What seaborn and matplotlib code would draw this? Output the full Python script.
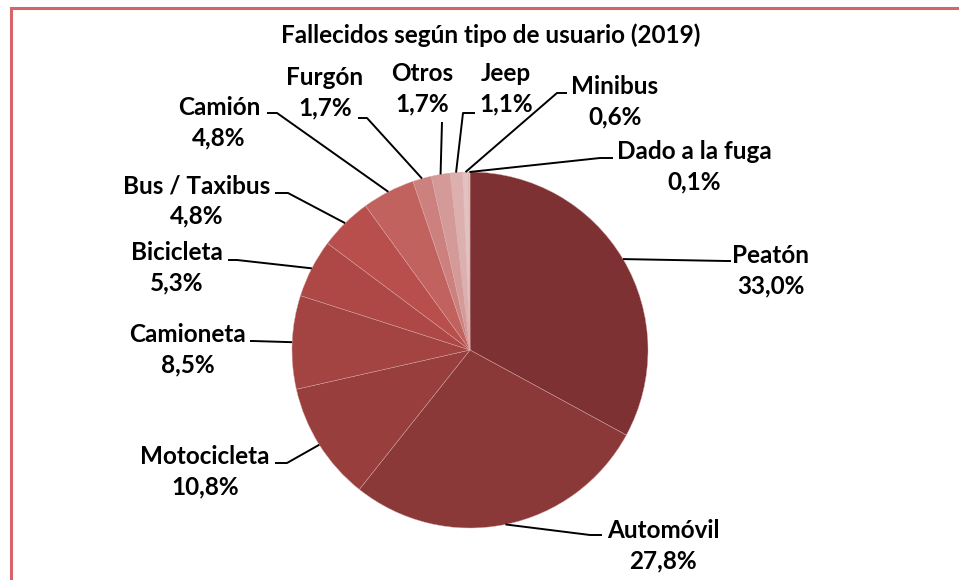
import numpy as np
import matplotlib
matplotlib.use("Agg")
import matplotlib.pyplot as plt
import seaborn as sns
from matplotlib.patches import Rectangle

# data
categorias = ["Peatón", "Automóvil", "Motocicleta", "Camioneta", "Bicicleta",
              "Bus / Taxibus", "Camión", "Furgón", "Otros", "Jeep", "Minibus",
              "Dado a la fuga"]
porcentajes = [33.0, 27.8, 10.8, 8.5, 5.3, 4.8, 4.8, 1.7, 1.7, 1.1, 0.6, 0.1]
colores = ["#7e3133", "#8b3839", "#983e3d", "#a34342", "#ad4847", "#b84f4d",
           "#c2625f", "#cd817f", "#d49a98", "#dbb0af", "#e2c2c1", "#e7d0cf"]

sns.set_theme(style="white")
plt.rcParams["font.family"] = ["Lato", "DejaVu Sans"]

W, H = 959, 580
fig = plt.figure(figsize=(W / 100, H / 100), dpi=100)
ax = fig.add_axes([0, 0, 1, 1])

cx, cy, r = 470, H - 350, 178
wedges, _ = ax.pie(porcentajes, colors=colores, startangle=90, counterclock=False,
                   center=(cx, cy), radius=r, frame=True,
                   wedgeprops=dict(edgecolor="#d9a9a8", linewidth=0.3))
ax.set_xlim(0, W)
ax.set_ylim(0, H)
ax.set_aspect("equal")
ax.axis("off")

# label layout (screen pixels, y downwards)
pos_texto = [(771, 271), (663, 546), (205, 472), (188, 350), (177, 268),
             (197, 201), (219, 123), (325, 93), (422, 89), (506, 89),
             (615, 102), (694, 167)]
codo = [(726, 261), (590, 535), (287, 463), (253, 341), (237, 260),
        (288, 193), (277, 113), (367, 118), (442, 122), (463, 113),
        (557, 93), (600, 158)]
fin = [(731, 261), (602, 535), (275, 463), (250, 341), (228, 260),
       (275, 193), (267, 113), (358, 118), (442, 122), (475, 113),
       (567, 93), (613, 158)]

for w, cat, p, tp, cp, fp in zip(wedges, categorias, porcentajes, pos_texto, codo, fin):
    ang = np.deg2rad((w.theta1 + w.theta2) / 2)
    x0, y0 = cx + r * np.cos(ang), cy + r * np.sin(ang)
    ax.plot([x0, cp[0], fp[0]], [y0, H - cp[1], H - fp[1]], color="black", lw=1.4,
            solid_capstyle="butt")
    txt = f"{cat}\n{p:.1f}%".replace(".", ",")
    ax.text(tp[0], H - tp[1], txt, ha="center", va="center", fontsize=17.5,
            fontweight="bold", linespacing=1.4, color="black")

ax.text(491, H - 35, "Fallecidos según tipo de usuario (2019)", ha="center", va="center",
        fontsize=17.5, fontweight="bold", color="black")

fig.patches.append(Rectangle((11, -20), W, H - 8 + 20, transform=None, fill=False,
                             edgecolor="#d4666a", linewidth=2.2))

fig.savefig("out.png", dpi=100)
